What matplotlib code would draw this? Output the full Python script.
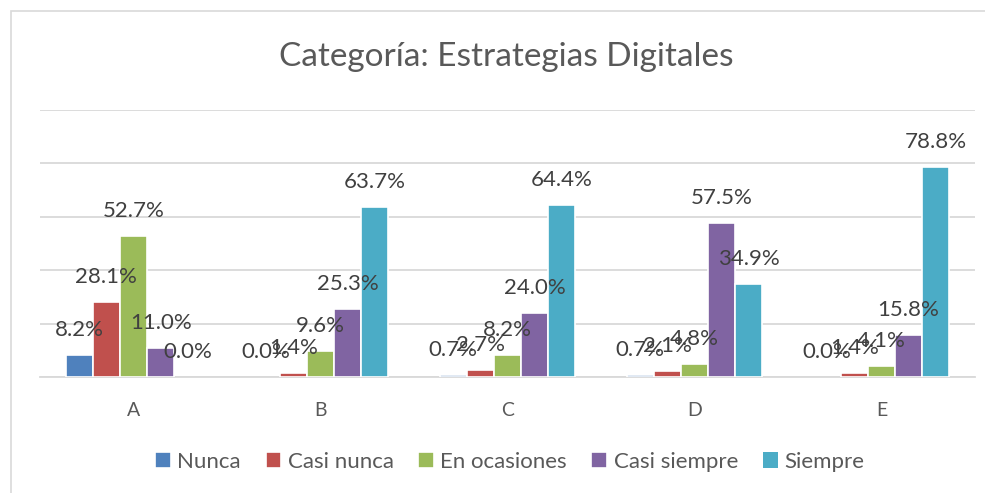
import matplotlib.pyplot as plt
import numpy as np
from matplotlib.patches import Rectangle

categories = ["A", "B", "C", "D", "E"]
series_names = ["Nunca", "Casi nunca", "En ocasiones", "Casi siempre", "Siempre"]
nunca = [8.2, 0.0, 0.7, 0.7, 0.0]
casi_nunca = [28.1, 1.4, 2.7, 2.1, 1.4]
en_ocasiones = [52.7, 9.6, 8.2, 4.8, 4.1]
casi_siempre = [11.0, 25.3, 24.0, 57.5, 15.8]
siempre = [0.0, 63.7, 64.4, 34.9, 78.8]
colors = ["#4F81BD", "#C0504D", "#9BBB59", "#8064A2", "#4BACC6"]


def main():
    plt.rcParams["font.family"] = ["Lato", "DejaVu Sans"]
    fig = plt.figure(figsize=(9.85, 4.93), dpi=100)
    ax = fig.add_axes([40 / 985, 116 / 493, 935 / 985, 267 / 493])

    # chart area border (clipped at right/bottom like the screenshot)
    fig.patches.append(Rectangle((11 / 985, -0.1), 1.2, 482 / 493 + 0.1,
                                 transform=fig.transFigure, fill=False,
                                 edgecolor="#D9D9D9", linewidth=1.2))

    x = np.arange(len(categories))
    step = 0.145
    data = [nunca, casi_nunca, en_ocasiones, casi_siempre, siempre]
    for i, (name, vals) in enumerate(zip(series_names, data)):
        pos = x + (i - 2) * step
        bars = ax.bar(pos, vals, width=step, color=colors[i], edgecolor="white",
                      linewidth=1.2, label=name, zorder=3)
        for b, v in zip(bars, vals):
            if v == 0:
                b.set_linewidth(0)
            ax.annotate(f"{v:.1f}%", (b.get_x() + b.get_width() / 2, v),
                        xytext=(0, 18), textcoords="offset points",
                        ha="center", va="center", fontsize=16, color="#404040",
                        zorder=4)

    ax.set_xlim(-0.5, len(categories) - 0.5)
    ax.set_ylim(0, 100)
    ax.set_yticks(np.arange(0, 101, 20))
    ax.set_yticklabels([])
    ax.set_xticks(x)
    ax.set_xticklabels(categories, fontsize=14, color="#595959")
    ax.tick_params(length=0, pad=18)
    ax.grid(axis="y", color="#D9D9D9", linewidth=1.3, zorder=0)
    for s in ["top", "right", "left"]:
        ax.spines[s].set_visible(False)
    ax.spines["bottom"].set_color("#D9D9D9")
    ax.spines["bottom"].set_linewidth(1.3)

    fig.text(506 / 985, (493 - 57) / 493, "Categoría: Estrategias Digitales",
             ha="center", va="center", fontsize=24, color="#595959")

    fig.legend(loc="center", bbox_to_anchor=(510 / 985, 31 / 493), ncol=5,
               frameon=False, fontsize=16, handlelength=0.7, handleheight=0.7,
               handletextpad=0.3, columnspacing=1.1, labelcolor="#595959")

    fig.savefig("out.png", dpi=100)


if __name__ == "__main__":
    main()
